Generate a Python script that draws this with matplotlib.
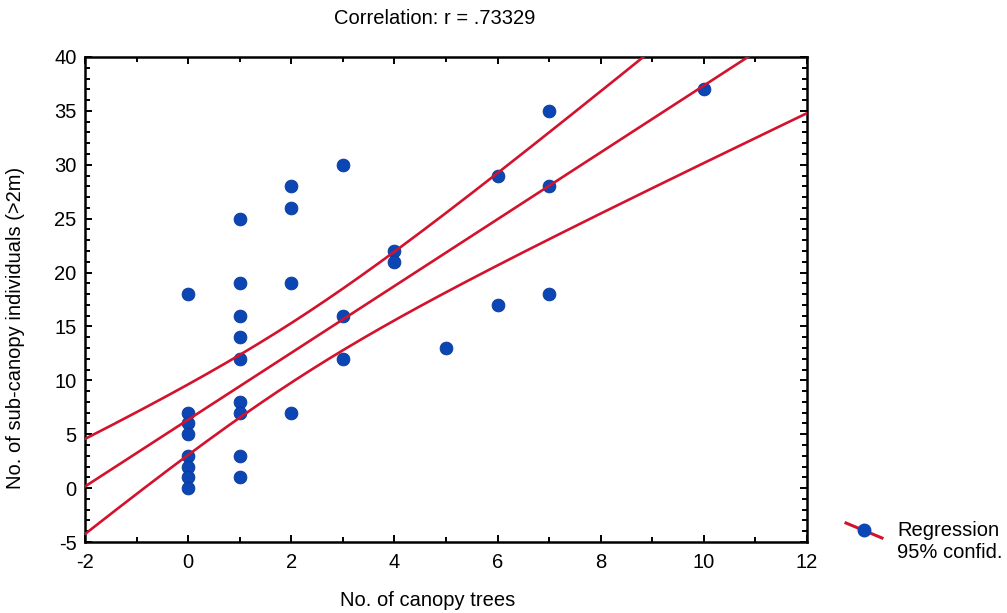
import numpy as np
import matplotlib
matplotlib.use("Agg")
import matplotlib.pyplot as plt
from matplotlib.lines import Line2D
from matplotlib.ticker import MultipleLocator

plt.rcParams['font.family'] = ['Liberation Sans', 'DejaVu Sans']
plt.rcParams['axes.unicode_minus'] = False

# Data
canopy_trees = [0, 0, 0, 0, 0, 0, 0, 0,
                1, 1, 1, 1, 1, 1, 1, 1, 1,
                2, 2, 2, 2,
                3, 3, 3,
                4, 4,
                5,
                6, 6,
                7, 7, 7,
                10]
subcanopy = [18, 7, 6, 5, 3, 2, 1, 0,
             25, 19, 16, 14, 12, 8, 7, 3, 1,
             28, 26, 19, 7,
             30, 16, 12,
             22, 21,
             13,
             29, 17,
             35, 28, 18,
             37]

# Regression line and 95% confidence band
fit_intercept = 6.35
fit_slope = 3.1
ci_halfwidth_at_mean = 2.76
ci_x_mean = 2.1
ci_growth = 0.84

title_text = "Correlation: r = .73329"
x_label = "No. of canopy trees"
y_label = "No. of sub-canopy individuals (>2m)"
legend_labels = ["Regression", "95% confid."]

red = "#d3132e"
blue = "#0b46b4"
fs = 14.5

fig = plt.figure(figsize=(10.07, 6.13), dpi=100)
ax = fig.add_axes([85/1007, 1 - 542/613, (807 - 85)/1007, (542 - 57)/613])

ax.scatter(canopy_trees, subcanopy, s=85, color=blue, edgecolors="#0a3a9a",
           linewidths=0.6, zorder=2)

xs = np.linspace(-2, 12, 300)
ys = fit_intercept + fit_slope * xs
hw = np.sqrt(ci_halfwidth_at_mean**2 + (ci_growth * (xs - ci_x_mean))**2)
for yy in (ys, ys + hw, ys - hw):
    ax.plot(xs, yy, color=red, lw=1.9, zorder=3)

ax.set_xlim(-2, 12)
ax.set_ylim(-5, 40)
ax.xaxis.set_major_locator(MultipleLocator(2))
ax.xaxis.set_minor_locator(MultipleLocator(1))
ax.yaxis.set_major_locator(MultipleLocator(5))
ax.yaxis.set_minor_locator(MultipleLocator(1))
ax.tick_params(which="both", direction="in", top=True, right=True,
               labelsize=fs, width=1.4)
ax.tick_params(which="major", length=5)
ax.tick_params(which="minor", length=3.5)
ax.tick_params(axis="x", pad=8)
ax.tick_params(axis="y", pad=6)
for sp in ax.spines.values():
    sp.set_linewidth(1.8)

fig.text(428/1007, 1 - 600/613, x_label, fontsize=fs, ha="center", va="center")
fig.text(16/1007, 1 - 328/613, y_label, fontsize=fs, ha="center", va="center",
         rotation=90)
fig.text(435/1007, 1 - 19/613, title_text, fontsize=fs, ha="center", va="center")

# Legend (custom handle: red line with blue dot)
fig.add_artist(Line2D([846/1007, 882/1007], [1 - 523/613, 1 - 538/613],
                      transform=fig.transFigure, color=red, lw=2.2))
fig.add_artist(Line2D([864/1007], [1 - 530/613], transform=fig.transFigure,
                      marker="o", markersize=9, color=blue, lw=0))
fig.text(897/1007, 1 - 530/613, legend_labels[0], fontsize=fs, va="center")
fig.text(897/1007, 1 - 553/613, legend_labels[1], fontsize=fs, va="center")

fig.savefig("out.png", dpi=100, facecolor="white")
